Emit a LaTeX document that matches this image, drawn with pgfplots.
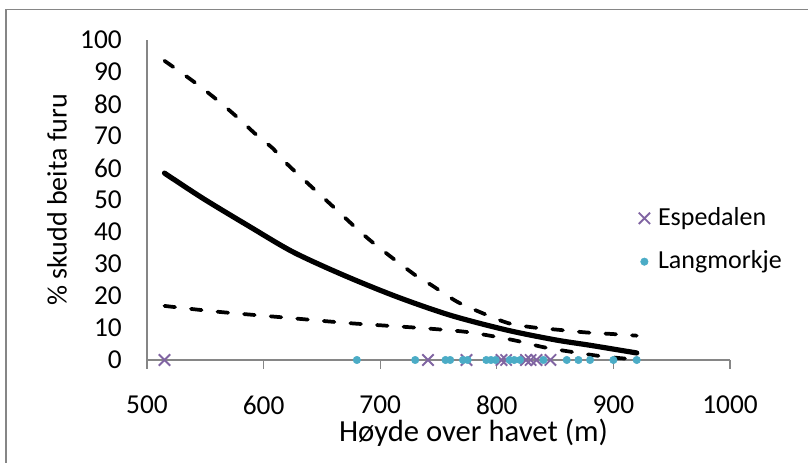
\documentclass[border=0pt]{standalone}
\usepackage{pgfplots}
\pgfplotsset{compat=1.18}
\usepackage{fontspec}
\setmainfont{Carlito}
\definecolor{espcol}{HTML}{8064A2}
\definecolor{langcol}{HTML}{4BACC6}
\definecolor{axgray}{HTML}{868686}
\begin{document}
\fontsize{20}{24}\selectfont
\begin{tikzpicture}
\begin{axis}[
  at={(0,0)}, anchor=south west,
  scale only axis, width=437.25pt, height=240pt,
  xmin=500, xmax=1000, ymin=0, ymax=100,
  xtick={500,600,...,1000}, ytick={0,10,...,100},
  axis x line=bottom, axis y line=left,
  axis line style={-, draw=axgray, line width=1pt},
  x tick style={draw=axgray, line width=1pt},
  y tick style={draw=none},
  xtick align=outside, ytick align=inside,
  major tick length=6.75pt,
  /pgf/number format/assume math mode=true,
  /pgf/number format/1000 sep={},
  tick label style={font=\fontsize{20.5}{24}\selectfont},
  xticklabel style={anchor=north, inner sep=0pt, yshift=-20pt},
  yticklabel style={anchor=east, inner sep=0pt, xshift=-18.75pt},
  xlabel={Høyde over havet (m)},
  ylabel={\% skudd beita furu},
  xlabel style={at={(axis description cs:0.56,-0.228)}, anchor=center, inner sep=0pt, font=\fontsize{23}{27}\selectfont},
  ylabel style={at={(axis description cs:-0.1544,0.5)}, anchor=center, inner sep=0pt, font=\fontsize{21}{25}\selectfont},
  clip=false,
  legend style={draw=none, fill=none, at={(axis description cs:0.843,0.375)}, anchor=west,
    legend cell align=left, row sep=12pt, inner sep=0pt, nodes={inner xsep=6pt},
    font=\fontsize{19.5}{23}\selectfont},
]
\addplot[only marks, mark=x, mark size=6pt, draw=espcol, mark options={line width=1.4pt}]
  coordinates {(515,0) (741,0) (774,0) (804,0) (808,0) (825,0) (829,0) (834,0) (846,0)};
\addlegendentry{Espedalen}
\addplot[only marks, mark=*, mark size=2.8pt, draw=langcol, fill=langcol]
  coordinates {(680,0) (730,0) (756,0) (760,0) (771,0) (775,0) (791,0) (795,0) (799,0)
    (811,0) (815,0) (820,0) (840,0) (860,0) (870,0) (880,0) (900,0) (920,0)};
\addlegendentry{Langmorkje}
% fitted curve
\addplot[black, line width=3.9pt, line cap=round, smooth, forget plot] coordinates {
  (515,58.4) (548,50.5) (588,41.7) (625,33.8) (668,26.6) (714,19.8) (760,14.0)
  (808,9.4) (850,6.3) (880,4.6) (920,2.2)};
% upper confidence
\addplot[black, line width=2.8pt, line cap=round, dash pattern=on 8pt off 12pt, smooth, forget plot] coordinates {
  (515,93.5) (540,87) (560,81.3) (577,76) (594,70.3) (608,66.1) (620,61.3) (657,48.8)
  (691,37.5) (729,26.8) (744,23.4) (766,18.2) (788,14.6) (810,11.5) (831,10.2)
  (854,9.4) (877,8.6) (900,8.1) (920,7.6)};
% lower confidence
\addplot[black, line width=2.8pt, line cap=round, dash pattern=on 8pt off 12pt, smooth, forget plot] coordinates {
  (515,16.9) (560,15.1) (617,13.3) (674,11.5) (731,10.1) (771,8.9) (794,7.6) (817,6.0)
  (840,4.0) (863,2.6) (886,1.35) (908,0.5) (920,0.2)};
\end{axis}
\pgfresetboundingbox
\useasboundingbox (-110.25pt,-77.25pt) rectangle (495.75pt,270pt);
\draw[axgray, line width=1pt] (-105.75pt,-90pt) -- (-105.75pt,262.9pt) -- (510pt,262.9pt);
\end{tikzpicture}
\end{document}
